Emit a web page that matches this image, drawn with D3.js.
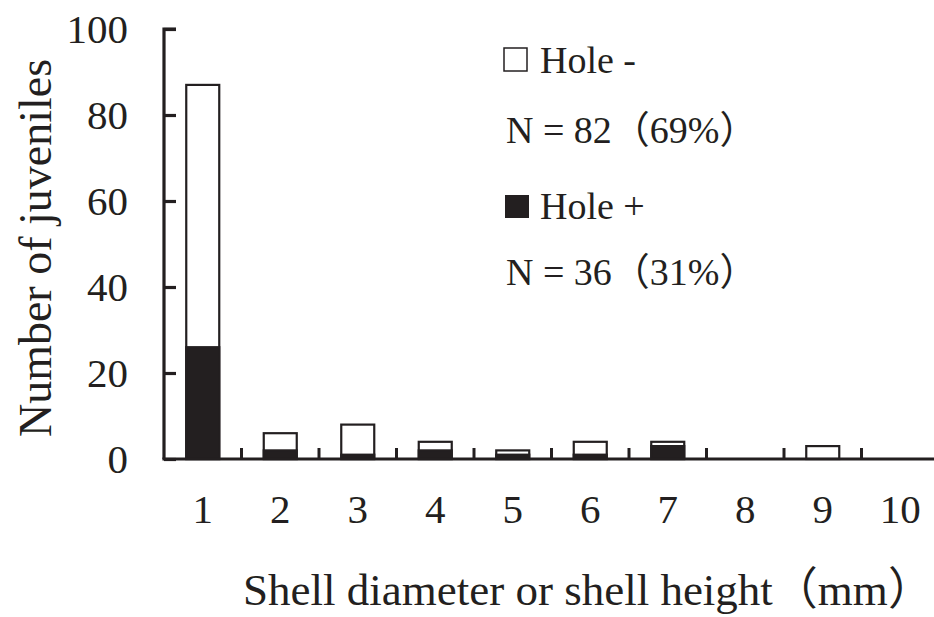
<!DOCTYPE html>
<html>
<head>
<meta charset="utf-8">
<script src="https://cdn.jsdelivr.net/npm/d3@7"></script>
<style>
  html, body { margin: 0; padding: 0; background: #fff; }
  svg { display: block; }
  text { font-family: "Liberation Serif", "Times New Roman", "Noto Sans CJK JP", serif; fill: #231f20; }
</style>
</head>
<body>
<svg id="chart" width="934" height="617"></svg>
<script>
// ---- data ----
const categories = ["1","2","3","4","5","6","7","8","9","10"];
const holeMinus = [61, 4, 7, 2, 1, 3, 1, 0, 3, 0];   // white part (no hole)
const holePlus  = [26, 2, 1, 2, 1, 1, 3, 0, 0, 0];   // black part (hole)
const yTicks = [0, 20, 40, 60, 80, 100];
const legendLabels = ["Hole -", "N = 82（69%）", "Hole +", "N = 36（31%）"];
const xTitle = "Shell diameter or shell height（mm）";
const yTitle = "Number of juveniles";

// ---- chart ----
const ink = "#231f20";
const svg = d3.select("#chart");
const x = d3.scaleBand().domain(categories).range([164, 939]).padding(0);
const y = d3.scaleLinear().domain([0, 100]).range([459, 29]);
const barW = 33;

const rows = categories.map((c, i) => ({ c, plus: holePlus[i], total: holePlus[i] + holeMinus[i] }));

// bars: total (white outlined)
svg.append("g").selectAll("rect").data(rows.filter(d => d.total > 0)).join("rect")
  .attr("x", d => x(d.c) + (x.bandwidth() - barW) / 2)
  .attr("width", barW)
  .attr("y", d => y(d.total))
  .attr("height", d => y(0) - y(d.total))
  .attr("fill", "#fff").attr("stroke", ink).attr("stroke-width", 2.2);

// bars: hole + (black)
svg.append("g").selectAll("rect").data(rows.filter(d => d.plus > 0)).join("rect")
  .attr("x", d => x(d.c) + (x.bandwidth() - barW) / 2)
  .attr("width", barW)
  .attr("y", d => y(d.plus))
  .attr("height", d => y(0) - y(d.plus))
  .attr("fill", ink).attr("stroke", ink).attr("stroke-width", 2.2);

// y axis
const yAxis = svg.append("g").attr("transform", `translate(${x.range()[0]},0)`)
  .call(d3.axisRight(y).tickValues(yTicks).tickSize(12).tickFormat(""));
yAxis.select(".domain").attr("d", `M12,${y(100)}H0V${y(0)}`).attr("stroke", ink).attr("stroke-width", 3.2);
yAxis.selectAll(".tick line").attr("stroke", ink).attr("stroke-width", 3.2);

svg.append("g").selectAll("text").data(yTicks).join("text")
  .attr("x", 128).attr("y", d => y(d)).attr("dy", "0.35em")
  .attr("text-anchor", "end").attr("font-size", 41)
  .text(d => d);

// x axis
const xAxis = svg.append("g").attr("transform", `translate(0,${y(0)})`);
xAxis.append("line").attr("x1", x.range()[0] - 1.6).attr("x2", 934).attr("y1", 0).attr("y2", 0)
  .attr("stroke", ink).attr("stroke-width", 3.2);
xAxis.selectAll("line.tk").data(categories.slice(1)).join("line").attr("class", "tk")
  .attr("x1", d => x(d)).attr("x2", d => x(d)).attr("y1", 0).attr("y2", -11)
  .attr("stroke", ink).attr("stroke-width", 3);

svg.append("g").selectAll("text").data(categories).join("text")
  .attr("x", d => x(d) + x.bandwidth() / 2).attr("y", 523)
  .attr("text-anchor", "middle").attr("font-size", 41)
  .text(d => d);

// titles
const xt = svg.append("text").attr("x", 243).attr("y", 605)
  .attr("font-size", 45);
xt.append("tspan").text(xTitle.slice(0, -1));
xt.append("tspan").attr("letter-spacing", "-22px").text(xTitle.slice(-1));
svg.append("text").attr("transform", `translate(51,248) rotate(-90)`).attr("text-anchor", "middle")
  .attr("font-size", 46).text(yTitle);

// legend
const lg = svg.append("g");
lg.append("rect").attr("x", 504).attr("y", 48).attr("width", 23).attr("height", 23)
  .attr("fill", "#fff").attr("stroke", ink).attr("stroke-width", 1.5);
lg.append("text").attr("x", 540).attr("y", 73).attr("font-size", 38).text(legendLabels[0]);
lg.append("text").attr("x", 506).attr("y", 143).attr("font-size", 38).text(legendLabels[1]);
lg.append("rect").attr("x", 505).attr("y", 195).attr("width", 24).attr("height", 23)
  .attr("fill", ink);
lg.append("text").attr("x", 540).attr("y", 219).attr("font-size", 38).text(legendLabels[2]);
lg.append("text").attr("x", 506).attr("y", 285).attr("font-size", 38).text(legendLabels[3]);
</script>
</body>
</html>
